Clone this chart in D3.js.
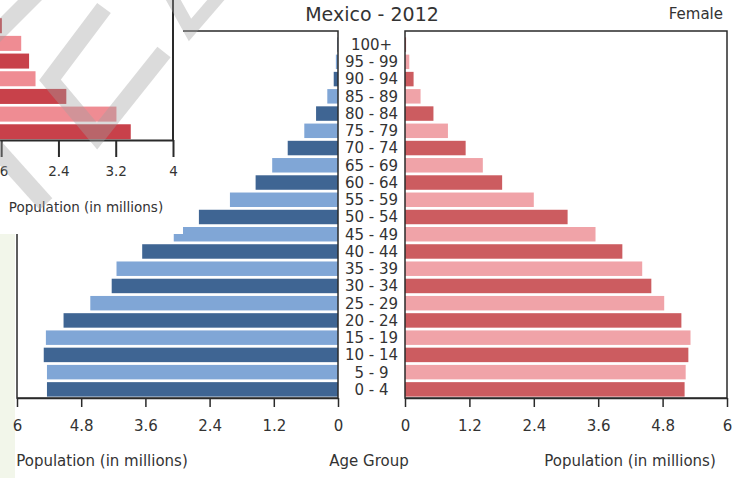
<!DOCTYPE html>
<html>
<head>
<meta charset="utf-8">
<script src="https://cdn.jsdelivr.net/npm/d3@7"></script>
<style>
  body { margin: 0; background: #fff; }
  svg { display: block; font-family: 'DejaVu Sans', sans-serif; }
</style>
</head>
<body>
<svg id="chart" width="740" height="478"></svg>
<script>
// Age groups, bottom to top
const ageGroups = ['0 - 4', '5 - 9', '10 - 14', '15 - 19', '20 - 24', '25 - 29', '30 - 34',
  '35 - 39', '40 - 44', '45 - 49', '50 - 54', '55 - 59', '60 - 64', '65 - 69', '70 - 74',
  '75 - 79', '80 - 84', '85 - 89', '90 - 94', '95 - 99', '100+'];

// Population in millions
const maleValues = [5.44, 5.44, 5.50, 5.46, 5.13, 4.63, 4.23, 4.14, 3.66, 3.07, 2.60,
  2.02, 1.54, 1.23, 0.94, 0.63, 0.41, 0.20, 0.08, 0.04, 0.01];
const femaleValues = [5.21, 5.23, 5.28, 5.32, 5.15, 4.83, 4.59, 4.42, 4.05, 3.55, 3.03,
  2.40, 1.81, 1.45, 1.13, 0.80, 0.53, 0.29, 0.16, 0.08, 0.02];

const axisTicks = [0, 1.2, 2.4, 3.6, 4.8, 6];

// Fragment of another pyramid pasted at the top left (bottom to top)
const insetValues = [3.41, 3.21, 2.51, 2.08, 1.99, 1.88, 1.61];
const insetTicks = [1.6, 2.4, 3.2, 4];

const colors = {
  maleDark: '#3f6593', maleLight: '#80a6d6',
  femaleDark: '#cc5c60', femaleLight: '#f0a3a8',
  insetDark: '#c8414a', insetLight: '#ef8c93',
  text: '#333', line: '#2a2a2a'
};

const svg = d3.select('#chart');

// Scales
const xMale = d3.scaleLinear().domain([0, 6]).range([338, 17]);
const xFemale = d3.scaleLinear().domain([0, 6]).range([405, 727]);
const y = d3.scaleBand()
  .domain(ageGroups)
  .range([398, 36])
  .paddingInner(0.16)
  .paddingOuter(0.08);

// Light strip on the left edge
svg.append('rect')
  .attr('x', 0).attr('y', 234)
  .attr('width', 15).attr('height', 244)
  .attr('fill', '#f2f6ea');

// Title and side label
svg.append('text')
  .attr('x', 372).attr('y', 14)
  .attr('dy', '0.35em')
  .attr('text-anchor', 'middle')
  .attr('font-size', 19)
  .attr('fill', colors.text)
  .text('Mexico - 2012');

svg.append('text')
  .attr('x', 723).attr('y', 14)
  .attr('dy', '0.35em')
  .attr('text-anchor', 'end')
  .attr('font-size', 15)
  .attr('fill', colors.text)
  .text('Female');

// Male bars
svg.append('g')
  .selectAll('rect')
  .data(ageGroups)
  .join('rect')
  .attr('x', (d, i) => xMale(maleValues[i]))
  .attr('y', d => y(d))
  .attr('width', (d, i) => xMale(0) - xMale(maleValues[i]))
  .attr('height', y.bandwidth())
  .attr('fill', (d, i) => i % 2 === 0 ? colors.maleDark : colors.maleLight);

// Female bars
svg.append('g')
  .selectAll('rect')
  .data(ageGroups)
  .join('rect')
  .attr('x', xFemale(0))
  .attr('y', d => y(d))
  .attr('width', (d, i) => xFemale(femaleValues[i]) - xFemale(0))
  .attr('height', y.bandwidth())
  .attr('fill', (d, i) => i % 2 === 0 ? colors.femaleDark : colors.femaleLight);

// Panel frames
[xMale, xFemale].forEach(x => {
  const [a, b] = d3.extent(x.range());
  svg.append('rect')
    .attr('x', a).attr('y', 31)
    .attr('width', b - a).attr('height', 398 - 31)
    .attr('fill', 'none')
    .attr('stroke', colors.line)
    .attr('stroke-width', 1.5);
});

// Axes
function styleAxis(g) {
  g.select('.domain').attr('stroke', colors.line).attr('stroke-width', 1.5);
  g.selectAll('.tick line').attr('stroke', colors.line).attr('stroke-width', 1.5);
  g.selectAll('.tick text')
    .attr('fill', colors.text)
    .attr('font-size', 15)
    .attr('font-family', "'DejaVu Sans', sans-serif");
}

[xMale, xFemale].forEach(x => {
  svg.append('g')
    .attr('transform', 'translate(0, 398)')
    .call(d3.axisBottom(x)
      .tickValues(axisTicks)
      .tickFormat(d => String(d))
      .tickSize(9)
      .tickSizeOuter(0)
      .tickPadding(13))
    .call(styleAxis);
});

// Age group labels
svg.append('g')
  .selectAll('text')
  .data(ageGroups)
  .join('text')
  .attr('x', 371.5)
  .attr('y', d => y(d) + y.bandwidth() / 2)
  .attr('dy', '0.36em')
  .attr('text-anchor', 'middle')
  .attr('font-size', 15)
  .attr('fill', colors.text)
  .text(d => d);

// Axis titles
const axisTitles = [
  { text: 'Population (in millions)', x: 102 },
  { text: 'Age Group', x: 369 },
  { text: 'Population (in millions)', x: 630 }
];
svg.append('g')
  .selectAll('text')
  .data(axisTitles)
  .join('text')
  .attr('x', d => d.x)
  .attr('y', 466)
  .attr('text-anchor', 'middle')
  .attr('font-size', 15)
  .attr('fill', colors.text)
  .text(d => d.text);

// Inset fragment
const inset = svg.append('g');

inset.append('rect')
  .attr('x', 0).attr('y', 0)
  .attr('width', 183).attr('height', 234)
  .attr('fill', '#fff');

const xInset = d3.scaleLinear().domain([0, 4]).range([173 - 4 * 71.6, 173]);
const yInset = d3.scaleBand()
  .domain(d3.range(insetValues.length))
  .range([140, 17.5])
  .paddingInner(0.15)
  .paddingOuter(0.04);

inset.append('g')
  .selectAll('rect')
  .data(insetValues)
  .join('rect')
  .attr('x', xInset(0))
  .attr('y', (d, i) => yInset(i))
  .attr('width', d => xInset(d) - xInset(0))
  .attr('height', yInset.bandwidth())
  .attr('fill', (d, i) => i % 2 === 0 ? colors.insetDark : colors.insetLight);

inset.append('line')
  .attr('x1', 173).attr('x2', 173)
  .attr('y1', 0).attr('y2', 140)
  .attr('stroke', colors.line)
  .attr('stroke-width', 2);

inset.append('g')
  .attr('transform', 'translate(0, 140)')
  .call(d3.axisBottom(xInset)
    .tickValues(insetTicks)
    .tickFormat(d => String(d))
    .tickSize(17)
    .tickSizeOuter(0)
    .tickPadding(9))
  .call(g => {
    g.select('.domain').attr('stroke', colors.line).attr('stroke-width', 2);
    g.selectAll('.tick line').attr('stroke', colors.line).attr('stroke-width', 2);
    g.selectAll('.tick text')
      .attr('fill', colors.text)
      .attr('font-size', 13.5)
      .attr('font-family', "'DejaVu Sans', sans-serif");
    // only the tail of the first label shows at the edge, as in the source
    g.selectAll('.tick text').filter(d => d === 1.6).attr('dx', -4);
  });

inset.append('text')
  .attr('x', 86).attr('y', 207)
  .attr('dy', '0.35em')
  .attr('text-anchor', 'middle')
  .attr('font-size', 13.5)
  .attr('fill', colors.text)
  .text('Population (in millions)');

// Grey watermark strokes
const watermark = [
  [[-6, 36], [38, -8]],
  [[104, 8], [50, 80], [97, 136], [164, 52]],
  [[-6, 146], [46, 204]],
  [[170, -6], [190, 30], [221, -6]]
];
svg.append('g')
  .selectAll('path')
  .data(watermark)
  .join('path')
  .attr('d', d3.line())
  .attr('fill', 'none')
  .attr('stroke', '#a0a0a0')
  .attr('stroke-opacity', 0.38)
  .attr('stroke-width', (d, i) => i === 3 ? 13 : 17)
  .attr('stroke-linejoin', 'miter');
</script>
</body>
</html>
